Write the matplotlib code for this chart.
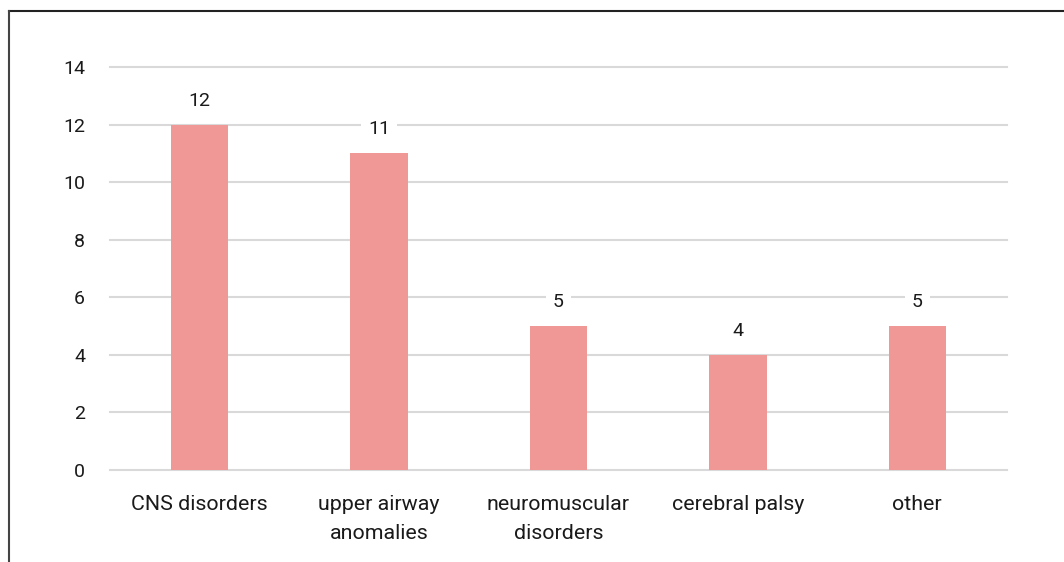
import matplotlib.pyplot as plt
from matplotlib.lines import Line2D

plt.rcParams['font.family'] = ['Roboto', 'DejaVu Sans']

categories = ["CNS disorders", "upper airway\nanomalies", "neuromuscular\ndisorders",
              "cerebral palsy", "other"]
counts = [12, 11, 5, 4, 5]

fig = plt.figure(figsize=(10.64, 5.62), dpi=100)
ax = fig.add_axes([0.1034, 0.1637, 0.8430, 0.7171])

x = range(len(categories))
ax.bar(x, counts, width=0.32, color="#F09896", zorder=2)

for i, v in enumerate(counts):
    ax.annotate(str(v), (i, v), xytext=(0, 24), textcoords="offset pixels",
                ha="center", va="center", fontsize=14, color="#1a1a1a",
                bbox=dict(boxstyle="square,pad=0.35", fc="white", ec="none"), zorder=3)

ax.set_xlim(-0.5, 4.5)
ax.set_ylim(0, 14)
ax.set_yticks(range(0, 15, 2))
ax.set_xticks(list(x))
ax.set_xticklabels(categories, fontsize=15.4, color="#1a1a1a", linespacing=1.66)
ax.tick_params(axis="y", labelsize=14, labelcolor="#1a1a1a", length=0, pad=18)
ax.tick_params(axis="x", length=0, pad=18)
ax.grid(axis="y", color="#D9D9D9", linewidth=1.5, zorder=0)
for gl in ax.get_ygridlines():
    gl.set_clip_on(False)
ax.set_axisbelow(True)
for s in ax.spines.values():
    s.set_visible(False)

# outer frame (top and left edges visible)
fig.add_artist(Line2D([8.5 / 1064, 1], [1 - 10.5 / 562] * 2, color="#222222", lw=1.5))
fig.add_artist(Line2D([8.5 / 1064] * 2, [0, 1 - 10.5 / 562], color="#444444", lw=1.5))

plt.savefig("out.png", dpi=100)
